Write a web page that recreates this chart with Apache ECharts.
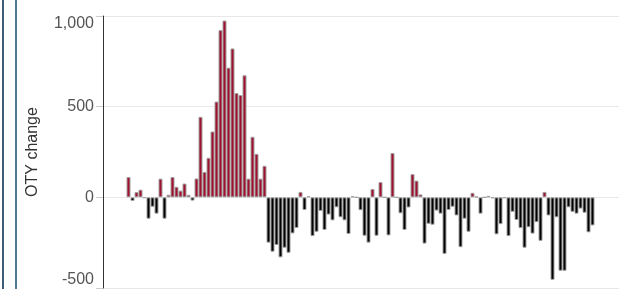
<!DOCTYPE html>
<html>
<head>
<meta charset="utf-8">
<script src="https://cdn.jsdelivr.net/npm/echarts@6/dist/echarts.min.js"></script>
<style>
  html, body { margin: 0; padding: 0; background: #fff; }
  #chart { width: 621px; height: 289px; }
</style>
</head>
<body>
<div id="chart"></div>
<script>
// OTY change, one bar per period
var periods = [];
var otyChange = [
    112, -20, 29, 42, -3, -118, -52, -90, 103, -118,
    14, 112, 58, 37, 76, 14, -18, 104, 444, 140,
    218, 363, 528, 922, 975, 715, 821, 575, 564, 673,
    103, 334, 240, 103, 174, -250, -300, -263, -331, -278,
    -306, -199, -169, 30, -70, 6, -214, -190, -75, -180,
    -95, -127, -55, -110, -127, -202, 6, 0, -71, -212,
    -250, 46, -212, 84, 0, -210, 244, 0, -88, -180,
    -56, 128, 92, 16, -255, -146, -151, -73, -90, -312,
    -70, -52, -100, -275, -118, -190, 25, 4, -90, 0,
    8, -5, -204, -148, -4, -214, -80, -125, -170, -278,
    -165, -200, -137, -240, 30, -100, -455, -110, -405, -405,
    -55, -80, -90, -62, -85, -193, -155
];
var yTicks = [-500, 0, 500, 1000];

for (var i = 0; i < otyChange.length; i++) periods.push(i);

var chart = echarts.init(document.getElementById('chart'));

// 4px per period, bar edges on half pixels so the grey outlines stay crisp
var xMin = -6.375;

var option = {
    animation: false,
    grid: { left: 103, right: 2, top: 16, bottom: 1 },
    graphic: [
        { type: 'rect', shape: { x: 2, y: 0, width: 2, height: 289 }, style: { fill: '#3f5c74' } },
        { type: 'rect', shape: { x: 15, y: 0, width: 2, height: 289 }, style: { fill: '#4f7794' } }
    ],
    xAxis: {
        type: 'value',
        min: xMin,
        max: xMin + 129,
        show: false
    },
    yAxis: {
        type: 'value',
        min: yTicks[0],
        max: yTicks[yTicks.length - 1],
        interval: 500,
        name: 'OTY change',
        nameLocation: 'middle',
        nameGap: 62,
        nameTextStyle: { fontFamily: 'Liberation Sans', fontSize: 16, color: '#333' },
        axisLine: { show: true, onZero: false, lineStyle: { color: '#333', width: 1 } },
        axisTick: { show: true, length: 7, lineStyle: { color: '#ccc' } },
        axisLabel: {
            margin: 9,
            fontFamily: 'Liberation Sans',
            fontSize: 16,
            color: '#555',
            verticalAlignMinLabel: 'bottom',
            verticalAlignMaxLabel: 'top'
        },
        splitLine: { show: true, lineStyle: { color: '#e8e8e8' } }
    },
    series: [{
        type: 'bar',
        barWidth: 4,
        data: periods.map(function (p, i) { return [p, otyChange[i]]; }),
        itemStyle: {
            borderColor: '#a0a0a0',
            borderWidth: 1,
            color: function (params) {
                return params.value[1] >= 0 ? '#a0102e' : '#000000';
            }
        }
    }]
};

chart.setOption(option);
</script>
</body>
</html>
